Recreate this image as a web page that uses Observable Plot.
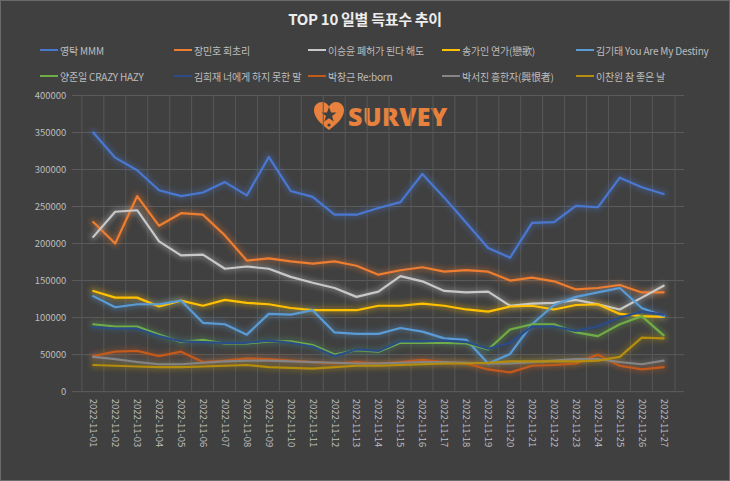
<!DOCTYPE html>
<html><head><meta charset="utf-8">
<script src="https://cdn.jsdelivr.net/npm/d3@7"></script>
<script src="https://cdn.jsdelivr.net/npm/@observablehq/plot@0.6"></script>
<style>
html,body{margin:0;padding:0;background:#404040;}
#chart{position:relative;width:730px;height:481px;background:#404040;box-sizing:border-box;border:1px solid #6a6a6a;font-family:"Noto Sans CJK KR","Noto Sans",sans-serif;overflow:hidden;}
#title{position:absolute;left:0;top:7px;width:100%;text-align:center;color:#EDEDED;font-size:15px;font-weight:bold;letter-spacing:-0.3px;}
.li{position:absolute;display:flex;align-items:center;height:14px;font-size:10px;color:#BDBDBD;white-space:nowrap;letter-spacing:-0.2px;}
.li span.sw{display:inline-block;width:18px;height:2px;margin-right:2px;}
#plot{position:absolute;left:0;top:85px;}
#wm{position:absolute;left:312px;top:98px;display:flex;align-items:center;}
#wm .txt{font-family:"Open Sans",sans-serif;font-weight:800;font-size:25px;color:#E8813E;margin-left:3px;letter-spacing:0.3px;}
</style></head>
<body>
<div id="chart">
  <div id="title">TOP 10 일별 득표수 추이</div>
  <div id="wm">
    <svg width="32" height="30" viewBox="0 0 32 30">
      <path d="M16 29 C5 21 1 15 1 9 C1 4 5 1 9 1 C12 1 14.5 3 16 5.5 C17.5 3 20 1 23 1 C27 1 31 4 31 9 C31 15 27 21 16 29 Z" fill="#E8813E"/>
      <path d="M16 6 L18 11.5 L23.5 11.5 L19 15 L20.8 20.5 L16 17.2 L11.2 20.5 L13 15 L8.5 11.5 L14 11.5 Z" fill="#404040"/>
      <circle cx="16" cy="24" r="1.6" fill="#404040"/>
    </svg>
    <div class="txt">SURVEY</div>
  </div>
  <div id="plot"></div>
</div>
<script>
const dates = ["2022-11-01","2022-11-02","2022-11-03","2022-11-04","2022-11-05","2022-11-06","2022-11-07","2022-11-08","2022-11-09","2022-11-10","2022-11-11","2022-11-12","2022-11-13","2022-11-14","2022-11-15","2022-11-16","2022-11-17","2022-11-18","2022-11-19","2022-11-20","2022-11-21","2022-11-22","2022-11-23","2022-11-24","2022-11-25","2022-11-26","2022-11-27"];

const seriesNames = ["영탁 MMM","장민호 회초리","이승윤 폐허가 된다 해도","송가인 연가(戀歌)","김기태 You Are My Destiny","양준일 CRAZY HAZY","김희재 너에게 하지 못한 말","박창근 Re:born","박서진 흥한자(興恨者)","이찬원 참 좋은 날"];
const seriesColors = ["#4A78D0","#ED7D31","#C8C8C8","#FFC000","#5B9BD5","#70AD47","#2B4C86","#C4591C","#858585","#B48D0E"];

const youngtak  = [350000,316000,299000,272000,264000,269000,283000,265000,317000,271000,263000,239000,239000,248000,256000,294000,262000,228000,194000,181000,228000,229000,251000,249000,289000,276000,267000];
const minho     = [229000,200000,264000,224000,241000,239000,211000,177000,180000,176000,173000,176000,170000,158000,164000,168000,162000,164000,162000,150000,154000,149000,138000,140000,144000,134000,134000];
const seungyoon = [209000,243000,245000,203000,184000,185000,166000,169000,166000,155000,147000,140000,128000,135000,156000,149000,136000,134000,135000,116000,119000,120000,124000,118000,111000,127000,143000];
const gain      = [136000,127000,127000,115000,123000,116000,124000,120000,118000,113000,110000,110000,110000,116000,116000,119000,116000,111000,108000,115000,116000,111000,117000,118000,105000,102000,101000];
const kitae     = [129000,114000,118000,118000,123000,93000,91000,77000,105000,104000,110000,80000,78000,78000,86000,81000,72000,70000,38000,51000,91000,117000,128000,134000,140000,113000,102000];
const junil     = [91000,88000,88000,77000,67000,70000,65000,65000,68000,68000,63000,50000,56000,54000,66000,66000,66000,65000,57000,84000,91000,91000,80000,75000,91000,102000,76000];
const heejae    = [87000,85000,85000,75000,68000,67000,66000,66000,69000,66000,61000,48000,57000,55000,68000,68000,69000,67000,58000,66000,88000,88000,82000,88000,100000,108000,104000];
const changgeun = [48000,54000,55000,48000,54000,40000,42000,45000,44000,42000,40000,38000,40000,38000,40000,43000,40000,38000,30000,26000,35000,36000,38000,50000,35000,30000,33000];
const seojin    = [47000,44000,40000,37000,37000,39000,41000,42000,42000,41000,40000,39000,38000,38000,39000,40000,40000,39000,38000,38000,40000,42000,44000,44000,40000,37000,42000];
const chanwon   = [36000,35000,34000,33000,33000,34000,35000,36000,33000,32000,31000,33000,35000,35000,36000,37000,38000,38000,39000,41000,41000,41000,41000,42000,47000,73000,72000];

const yTicks = [0,50000,100000,150000,200000,250000,300000,350000,400000];

const allValues = [youngtak,minho,seungyoon,gain,kitae,junil,heejae,changgeun,seojin,chanwon];
const rows = [];
seriesNames.forEach((name, i) => {
  allValues[i].forEach((v, j) => rows.push({series: name, idx: j, value: v}));
});
const idxs = dates.map((d, j) => j);

// legend
const chart = document.getElementById("chart");
seriesNames.forEach((name, i) => {
  const col = i % 5, row = Math.floor(i / 5);
  const el = document.createElement("div");
  el.className = "li";
  el.style.left = (39 + col * 134) + "px";
  el.style.top = (row === 0 ? 42 : 68) + "px";
  el.innerHTML = `<span class="sw" style="background:${seriesColors[i]}"></span>${name}`;
  chart.appendChild(el);
});

const W = 730, ML = 71, MR = 45;
const step = (W - ML - MR) / dates.length;

const plot = Plot.plot({
  width: W,
  height: 394,
  marginLeft: ML,
  marginRight: MR,
  marginTop: 9,
  marginBottom: 88,
  style: {background: "transparent", color: "#BDBDBD", fontFamily: "'Noto Sans CJK KR','Noto Sans',sans-serif", fontSize: "9.5px", overflow: "visible"},
  x: {type: "point", domain: idxs, padding: 0.5, tickFormat: i => dates[i], tickRotate: 90, tickSize: 0, tickPadding: 7, label: null},
  y: {domain: [0, 400000], ticks: yTicks, tickFormat: d => String(d), tickSize: 0, tickPadding: 6, label: null},
  color: {domain: seriesNames, range: seriesColors},
  marks: [
    Plot.ruleY(yTicks, {stroke: "#5C5C5C", strokeWidth: 1}),
    Plot.ruleX(idxs, {dx: -step / 2, stroke: "#575757", strokeWidth: 1}),
    Plot.ruleX([idxs[idxs.length - 1]], {dx: step / 2, stroke: "#575757", strokeWidth: 1}),
    Plot.line(rows, {x: "idx", y: "value", z: "series", stroke: "series", strokeWidth: 7, strokeOpacity: 0.3}),
    Plot.line(rows, {x: "idx", y: "value", z: "series", stroke: "series", strokeWidth: 2.2})
  ]
});
d3.select(plot).selectAll('g[aria-label="line"][stroke-width="7"]').style("filter", "blur(2.5px)");
document.getElementById("plot").appendChild(plot);
</script>
</body></html>
